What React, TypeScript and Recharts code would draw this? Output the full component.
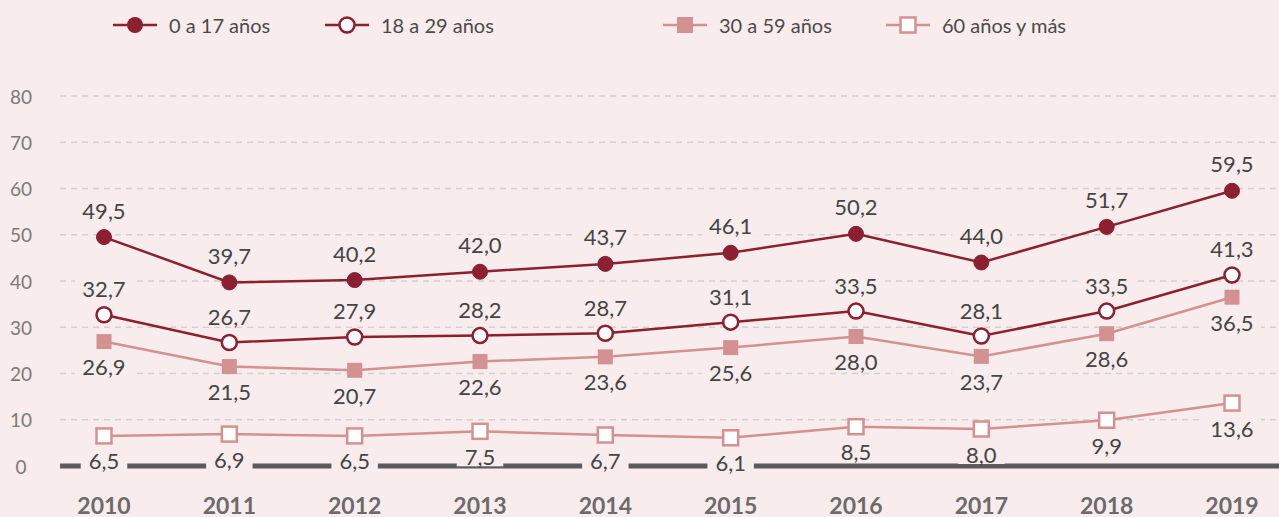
import React from 'react';
import { LineChart, Line, XAxis, YAxis, CartesianGrid, ReferenceLine, LabelList, Legend } from 'recharts';

const years = ['2010', '2011', '2012', '2013', '2014', '2015', '2016', '2017', '2018', '2019'];
const age0to17 = [49.5, 39.7, 40.2, 42.0, 43.7, 46.1, 50.2, 44.0, 51.7, 59.5];
const age18to29 = [32.7, 26.7, 27.9, 28.2, 28.7, 31.1, 33.5, 28.1, 33.5, 41.3];
const age30to59 = [26.9, 21.5, 20.7, 22.6, 23.6, 25.6, 28.0, 23.7, 28.6, 36.5];
const age60plus = [6.5, 6.9, 6.5, 7.5, 6.7, 6.1, 8.5, 8.0, 9.9, 13.6];
const yTicks = [0, 10, 20, 30, 40, 50, 60, 70, 80];
const seriesNames = ['0 a 17 años', '18 a 29 años', '30 a 59 años', '60 años y más'];

const data = years.map((year, i) => ({
  year,
  a: age0to17[i],
  b: age18to29[i],
  c: age30to59[i],
  d: age60plus[i],
}));

const BG = '#f9eced';
const DARK = '#8c1f30';
const PINK = '#d39192';
const FONT = 'Lato, "Open Sans", sans-serif';

const fmt = (v: number) => v.toFixed(1).replace('.', ',');

const makeLabel = (dy: number) => (props: any) => {
  const { x, y, value } = props;
  if (x == null || y == null || value == null) return null;
  const txt = fmt(Number(value));
  const w = txt.length * 11.5 + 12;
  const h = 20;
  const cy = y + dy;
  return (
    <g>
      <rect x={x - w / 2} y={cy - h / 2} width={w} height={h} fill={BG} />
      <text x={x} y={cy} textAnchor="middle" dominantBaseline="central" fontSize={22} fontFamily={FONT} fill="#444">
        {txt}
      </text>
    </g>
  );
};

const SquareDot = (filled: boolean) => (props: any) => {
  const { cx, cy, index } = props;
  if (cx == null || cy == null) return <g key={index} />;
  const s = 15;
  return (
    <rect
      key={index}
      x={cx - s / 2}
      y={cy - s / 2}
      width={s}
      height={s}
      fill={filled ? PINK : '#fff'}
      stroke={PINK}
      strokeWidth={filled ? 0 : 2.5}
    />
  );
};

const legendLefts = [113, 325, 663, 886];

const LegendContent = () => (
  <svg width={1279} height={50} style={{ display: 'block' }}>
    {seriesNames.map((name, i) => {
      const x0 = legendLefts[i];
      const color = i < 2 ? DARK : PINK;
      const cx = x0 + 22;
      const cy = 25;
      return (
        <g key={name}>
          <line x1={x0} x2={x0 + 44} y1={cy} y2={cy} stroke={color} strokeWidth={2.5} />
          {i === 0 && <circle cx={cx} cy={cy} r={8} fill={DARK} />}
          {i === 1 && <circle cx={cx} cy={cy} r={7.5} fill="#fff" stroke={DARK} strokeWidth={2.5} />}
          {i === 2 && <rect x={cx - 8} y={cy - 8} width={16} height={16} fill={PINK} />}
          {i === 3 && <rect x={cx - 7.5} y={cy - 7.5} width={15} height={15} fill="#fff" stroke={PINK} strokeWidth={2.5} />}
          <text x={x0 + 56} y={cy} dominantBaseline="central" fontSize={20} fontFamily={FONT} fill="#4a4a4a">
            {name}
          </text>
        </g>
      );
    })}
  </svg>
);

const YTick = (props: any) => {
  const { x, y, payload } = props;
  return (
    <text x={x - 39} y={y} textAnchor="middle" dominantBaseline="central" fontSize={19} fontFamily={FONT} fill="#7a7a7a">
      {payload.value}
    </text>
  );
};

const XTick = (props: any) => {
  const { x, y, payload } = props;
  return (
    <text x={x} y={y + 39} textAnchor="middle" dominantBaseline="central" fontSize={23} fontWeight={700} fontFamily={FONT} fill="#6b6b6b">
      {payload.value}
    </text>
  );
};

export default function App() {
  return (
    <div style={{ width: 1279, height: 517, background: BG, position: 'relative' }}>
      <style>{'body{margin:0;background:' + BG + ';}'}</style>
      <LineChart width={1279} height={517} data={data} margin={{ top: 96, right: 0, bottom: 0, left: 0 }}>
        <CartesianGrid vertical={false} stroke="#d2d0d0" strokeDasharray="6 5" strokeWidth={1.5} />
        <XAxis
          dataKey="year"
          padding={{ left: 44, right: 47 }}
          axisLine={false}
          tickLine={false}
          tickSize={0}
          tickMargin={0}
          height={51}
          tick={<XTick />}
          interval={0}
        />
        <YAxis
          domain={[0, 80]}
          ticks={yTicks}
          axisLine={false}
          tickLine={false}
          tickSize={0}
          tickMargin={0}
          width={60}
          tick={<YTick />}
        />
        <ReferenceLine y={0} stroke="#5a5a5b" strokeWidth={5} />
        <Legend
          layout="horizontal"
          verticalAlign="middle"
          align="center"
          wrapperStyle={{ top: 0, left: 0, width: 1279, height: 50 }}
          content={<LegendContent />}
        />
        <Line dataKey="d" stroke={PINK} strokeWidth={2.5} dot={SquareDot(false)} isAnimationActive={false}>
          <LabelList dataKey="d" content={makeLabel(25)} />
        </Line>
        <Line dataKey="c" stroke={PINK} strokeWidth={2.5} dot={SquareDot(true)} isAnimationActive={false}>
          <LabelList dataKey="c" content={makeLabel(25)} />
        </Line>
        <Line
          dataKey="b"
          stroke={DARK}
          strokeWidth={2.5}
          dot={{ r: 7.5, fill: '#fff', stroke: DARK, strokeWidth: 2.5 }}
          isAnimationActive={false}
        >
          <LabelList dataKey="b" content={makeLabel(-26)} />
        </Line>
        <Line
          dataKey="a"
          stroke={DARK}
          strokeWidth={2.5}
          dot={{ r: 7.5, fill: DARK, stroke: DARK, strokeWidth: 1 }}
          isAnimationActive={false}
        >
          <LabelList dataKey="a" content={makeLabel(-27)} />
        </Line>
      </LineChart>
    </div>
  );
}
